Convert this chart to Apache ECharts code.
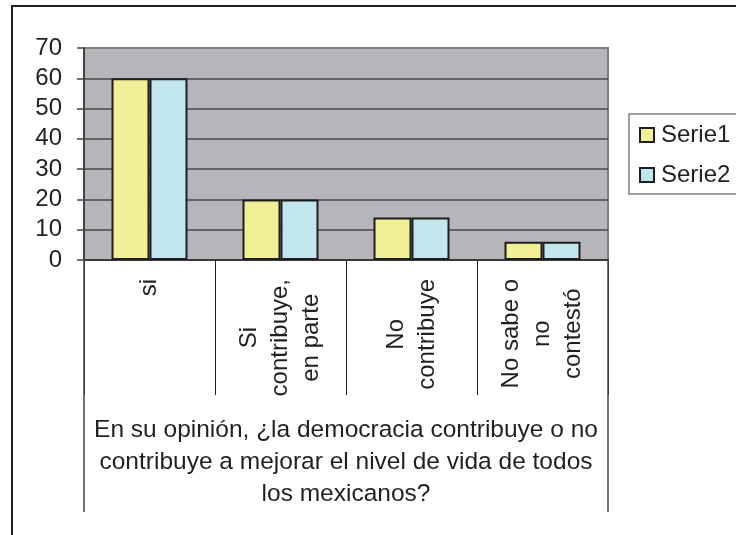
<!DOCTYPE html>
<html>
<head>
<meta charset="utf-8">
<script src="https://cdn.jsdelivr.net/npm/echarts@6/dist/echarts.min.js"></script>
<style>
html,body{margin:0;padding:0;background:#fff;}
#chart{width:736px;height:535px;}
</style>
</head>
<body>
<div id="chart"></div>
<script>
const categories = ['si', 'Si\ncontribuye,\nen parte', 'No\ncontribuye', 'No sabe o\nno\ncontestó'];
const serie1 = [60, 20, 14, 6];
const serie2 = [60, 20, 14, 6];
const seriesNames = ['Serie1', 'Serie2'];
const axisTitle = 'En su opinión, ¿la democracia contribuye o no\ncontribuye a mejorar el nivel de vida de todos\nlos mexicanos?';
const yTicks = { min: 0, max: 70, interval: 10 };

const FONT = "'Liberation Sans', Arial, sans-serif";
const TXT = '#231f20';

const chart = echarts.init(document.getElementById('chart'), null, { renderer: 'canvas' });
chart.setOption({
  animation: false,
  textStyle: { fontFamily: FONT },
  graphic: [{
    type: 'rect',
    shape: { x: 12, y: 6, width: 760, height: 580 },
    style: { fill: 'none', stroke: TXT, lineWidth: 2 },
    silent: true, z: 100
  }],
  grid: {
    left: 84, right: 128, top: 48, bottom: 275,
    show: true, backgroundColor: '#b5b5ba', borderColor: '#808080', borderWidth: 2
  },
  legend: {
    data: seriesNames,
    orient: 'vertical',
    left: 629, top: 114,
    padding: [9, 24, 7, 10],
    itemGap: 16,
    itemWidth: 14, itemHeight: 14,
    icon: 'rect',
    borderColor: '#808080', borderWidth: 1.5,
    textStyle: { fontSize: 24, color: TXT, fontFamily: FONT, padding: [0, 0, 0, 2] }
  },
  xAxis: [{
    type: 'category',
    data: categories,
    position: 'bottom',
    axisLine: { show: true, lineStyle: { color: '#3a3a3a', width: 2 } },
    axisTick: { show: true, length: 135, lineStyle: { color: TXT, width: 1 } },
    axisLabel: {
      rotate: 90,
      margin: 19,
      interval: 0,
      formatter: function (v) { return v.split('\n').map(function (l) { return '{c|' + l + '}'; }).join('\n'); },
      rich: { c: { align: 'center', fontSize: 24, lineHeight: 31, color: TXT, fontFamily: FONT } }
    }
  }, {
    type: 'category',
    data: [axisTitle],
    position: 'bottom',
    axisLine: { show: false },
    axisTick: { show: true, length: 252, lineStyle: { color: '#444', width: 1.5 } },
    axisLabel: {
      margin: 154,
      fontSize: 24.5,
      lineHeight: 32,
      color: TXT,
      fontFamily: FONT,
      align: 'center'
    }
  }],
  yAxis: {
    type: 'value',
    min: yTicks.min, max: yTicks.max, interval: yTicks.interval,
    axisLine: { show: true, lineStyle: { color: '#444', width: 2 } },
    axisTick: { show: true, length: 7, lineStyle: { color: '#444', width: 1.5 } },
    axisLabel: { margin: 22, fontSize: 24, color: TXT, fontFamily: FONT },
    splitLine: { show: true, lineStyle: { color: ['#4a4a4a','#4a4a4a','#4a4a4a','#4a4a4a','#4a4a4a','#4a4a4a','#4a4a4a','#808080'], width: 1.5 } }
  },
  series: [{
    name: seriesNames[0],
    type: 'bar',
    data: serie1,
    barGap: '0%',
    barCategoryGap: '42%',
    itemStyle: { color: '#f2f096', borderColor: '#1e1e1e', borderWidth: 2 }
  }, {
    name: seriesNames[1],
    type: 'bar',
    data: serie2,
    barGap: '0%',
    barCategoryGap: '42%',
    itemStyle: { color: '#c2e6ee', borderColor: '#1e1e1e', borderWidth: 2 }
  }]
});
</script>
</body>
</html>
